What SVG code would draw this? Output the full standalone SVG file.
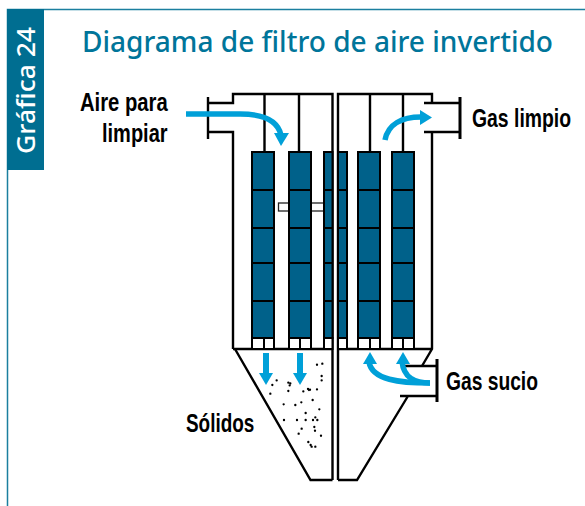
<svg xmlns="http://www.w3.org/2000/svg" width="585" height="506" viewBox="0 0 585 506">
<style>
.ln{fill:none;stroke:#000;stroke-width:2}
.th{fill:none;stroke:#000;stroke-width:2.4}
.bag{fill:#00618a;stroke:#000;stroke-width:2}
.cup{fill:#fff;stroke:#000;stroke-width:2}
.flow{fill:none;stroke:#00a0d8;stroke-width:5.5}
.head{fill:#00a0d8}
.lbl{font-family:"Liberation Sans",sans-serif;font-weight:700;font-size:25px;fill:#000}
</style>
<rect width="585" height="506" fill="#fff"/>
<g id="frame">
<path d="M7.5 506V9.500H585" fill="none" stroke="#1b7f9f" stroke-width="1.500"/>
<rect x="7" y="9" width="37" height="161" fill="#006e91"/>
<text transform="translate(35 154) rotate(-90)" font-family="'Noto Sans',sans-serif" font-weight="500" font-size="26" fill="#fff" textLength="127" lengthAdjust="spacingAndGlyphs">Gráfica 24</text>
</g>
<text id="title" x="82" y="52" font-family="'Noto Sans',sans-serif" font-weight="500" font-size="28" fill="#00759a" textLength="471" lengthAdjust="spacingAndGlyphs">Diagrama de filtro de aire invertido</text>
<g id="connectors">
<path class="th" d="M208 97V139M208 103H233V94H332.500V480M208 132H233V349M264.500 94V152M299 94V152M233 349H332.500"/>
<path class="th" d="M338 480V94H432V103M370 94V152M403 94V152M424 103H460M424 132H460M432 132V349L422 366M338 349H432"/>
<path d="M460 97V139M437 359V402" fill="none" stroke="#000" stroke-width="3"/>
<path class="th" d="M235 349L310.500 480H332.500M338 480H357L408 396M405 366H437M400 396H437"/>
</g>
<g id="rod"><rect x="278.500" y="203" width="46" height="8" fill="#fff" stroke="#222" stroke-width="1.300"/></g>
<g id="bags">
<g id="bag1"><rect class="bag" x="252" y="152" width="22" height="186"/><path class="ln" d="M252 190H274M252 228H274M252 263H274M252 301H274"/><path class="cup" d="M252 338V349H274V338ZM264 338V349"/></g>
<g id="bag2"><rect class="bag" x="289" y="152" width="22" height="186"/><path class="ln" d="M289 190H311M289 228H311M289 263H311M289 301H311"/><path class="cup" d="M289 338V349H311V338ZM300 338V349"/></g>
<g id="bag3a"><rect class="bag" x="324" y="152" width="8.500" height="186"/><path class="ln" d="M324 190H332M324 228H332M324 263H332M324 301H332"/><path class="cup" d="M324 338V349H332.500V338Z"/></g>
<g id="bag3b"><rect class="bag" x="338" y="152" width="9" height="186"/><path class="ln" d="M338 190H347M338 228H347M338 263H347M338 301H347"/><path class="cup" d="M338 338V349H347V338Z"/></g>
<g id="bag4"><rect class="bag" x="358" y="152" width="22" height="186"/><path class="ln" d="M358 190H380M358 228H380M358 263H380M358 301H380"/><path class="cup" d="M358 338V349H380V338ZM370 338V349"/></g>
<g id="bag5"><rect class="bag" x="392" y="152" width="22" height="186"/><path class="ln" d="M392 190H414M392 228H414M392 263H414M392 301H414"/><path class="cup" d="M392 338V349H414V338ZM403 338V349"/></g>
</g>
<g id="solids" transform="translate(220 320) scale(.3333)">
<path fill="none" stroke="#000" stroke-width="7" stroke-linecap="round" d="M291 134h0M307 131h0M305 168h0M305 181h0M170 181h0M157 195h0M205 188h0M211 190h0M209 196h0M205 213h0M151 221h0M250 214h0M264 207h0M270 209h0M267 210h0M291 208h0M278 240h0M244 247h0M226 255h0M191 253h0M298 268h0M257 279h0M286 292h0M279 300h0M292 300h0M257 300h0M231 300h0M192 300h0M283 321h0M285 332h0M245 326h0M236 341h0M303 347h0M265 366h0M272 375h0M275 380h0M286 380h0"/>
</g>
<g id="flows">
<path class="flow" d="M186 114H240C265 114 278 122 281 135"/>
<path class="head" d="M274 133H289L281 146Z"/>
<path class="flow" d="M385 140C388 124 402 117 421 117"/>
<path class="head" d="M420 110L432 117.500 420 125Z"/>
<rect class="head" x="263" y="353" width="6" height="21"/>
<path class="head" d="M259 373H273L266 385Z"/>
<rect class="head" x="297" y="353" width="6" height="21"/>
<path class="head" d="M293 373H307L300 385Z"/>
<path class="flow" d="M430 383C400 383 372 380 369 362"/>
<path class="flow" d="M430 383C415 383 404 378 402 362"/>
<path class="head" d="M363 364L370 352 377 364Z"/>
<path class="head" d="M396 364L403 352 410 364Z"/>
</g>
<g id="labels">
<text class="lbl" transform="translate(80 111) scale(.81 1)">Aire para</text>
<text class="lbl" transform="translate(102 142) scale(.8 1)">limpiar</text>
<text class="lbl" transform="translate(472 127) scale(.775 1)">Gas limpio</text>
<text class="lbl" transform="translate(446 390) scale(.77 1)">Gas sucio</text>
<text class="lbl" transform="translate(186 432) scale(.757 1)">Sólidos</text>
</g>
</svg>
